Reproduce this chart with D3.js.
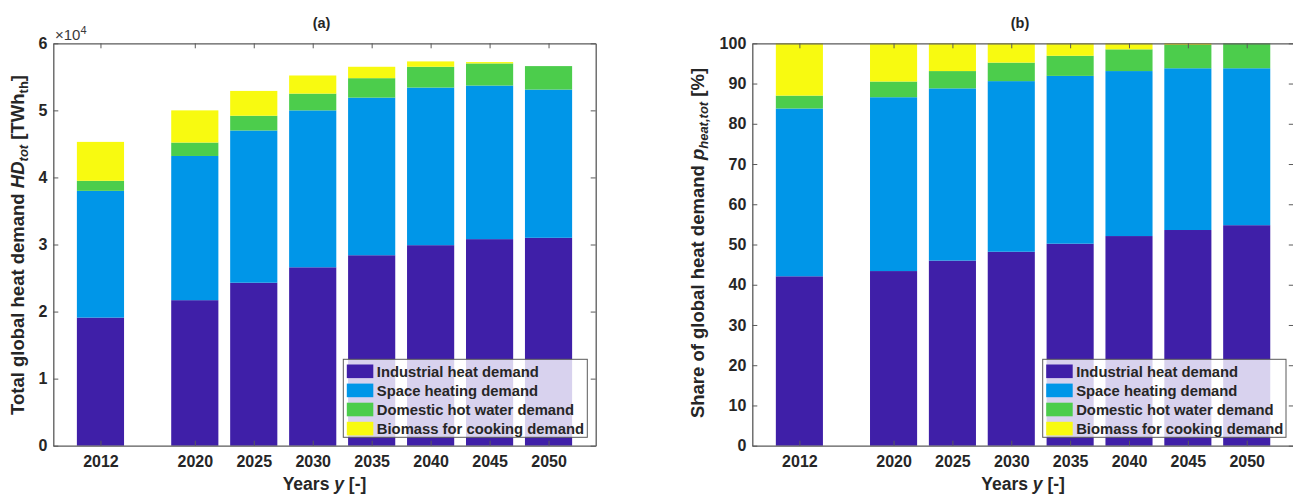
<!DOCTYPE html>
<html>
<head>
<meta charset="utf-8">
<script src="https://cdn.jsdelivr.net/npm/d3@7/dist/d3.min.js"></script>
<style>
  html, body { margin: 0; padding: 0; background: #fff; }
  svg { display: block; font-family: "Liberation Sans", Arial, sans-serif; }
</style>
</head>
<body>
<svg id="chart" width="1293" height="495"></svg>
<script>
// Years of the scenario
const years = [2012, 2020, 2025, 2030, 2035, 2040, 2045, 2050];

// Series names (stack order, bottom to top)
const seriesNames = [
  "Industrial heat demand",
  "Space heating demand",
  "Domestic hot water demand",
  "Biomass for cooking demand"
];

// (a) Total global heat demand, TWh_th
const industrialTWh = [19100, 21700, 24300, 26600, 28400, 29900, 30800, 31000];
const spaceTWh      = [18900, 21500, 22700, 23400, 23500, 23500, 22900, 22100];
const hotWaterTWh   = [ 1500,  2000,  2200,  2500,  2900,  3100,  3300,  3500];
const biomassTWh    = [ 5800,  4800,  3700,  2700,  1700,   800,   200,     0];

// (b) Share of global heat demand, %
const industrialPct = [42.1, 43.4, 46.0, 48.2, 50.2, 52.1, 53.6, 54.8];
const spacePct      = [41.7, 43.2, 42.8, 42.4, 41.7, 41.0, 40.2, 39.0];
const hotWaterPct   = [ 3.2,  3.9,  4.3,  4.6,  5.0,  5.4,  5.8,  6.2];
const biomassPct    = [13.0,  9.5,  6.9,  4.8,  3.1,  1.5,  0.4,  0.0];

// Axis ticks
const yTicksA = [0, 10000, 20000, 30000, 40000, 50000, 60000];
const yTickLabelsA = ["0", "1", "2", "3", "4", "5", "6"];
const yTicksB = [0, 10, 20, 30, 40, 50, 60, 70, 80, 90, 100];

const colors = ["#3f1fa8", "#0096e8", "#4ccd4c", "#f8fa10"];
const textColor = "#262626";
const axisColor = "#5a5a5a";

const svg = d3.select("#chart");

function buildRows(seriesArrays) {
  return years.map((yr, i) => {
    const row = { year: yr };
    seriesNames.forEach((name, k) => { row[name] = seriesArrays[k][i]; });
    return row;
  });
}

function drawPanel(opt) {
  const { left, right, top, bottom, rows, yMax, yTicks, yTickFormat, title, legendBox } = opt;

  const x = d3.scaleLinear().domain([2008, 2054]).range([left, right]);
  const y = d3.scaleLinear().domain([0, yMax]).range([bottom, top]);
  const halfBar = 2; // bar spans 4 years (0.8 of the 5-year step)

  const g = svg.append("g");

  const stacked = d3.stack().keys(seriesNames)(rows);

  // Stacked bars
  g.selectAll("g.layer")
    .data(stacked)
    .join("g")
    .attr("class", "layer")
    .attr("fill", (d, k) => colors[k])
    .selectAll("rect")
    .data(d => d)
    .join("rect")
    .attr("x", d => x(d.data.year - halfBar))
    .attr("width", d => x(d.data.year + halfBar) - x(d.data.year - halfBar))
    .attr("y", d => y(d[1]))
    .attr("height", d => Math.max(0, y(d[0]) - y(d[1])));

  // Axes (box with inward ticks on all sides)
  const tickLen = 5;
  const xAxisB = d3.axisBottom(x).tickValues(years).tickFormat(d3.format("d")).tickSizeInner(-tickLen).tickSizeOuter(0).tickPadding(10);
  const xAxisT = d3.axisTop(x).tickValues(years).tickFormat("").tickSizeInner(-tickLen).tickSizeOuter(0);
  const yAxisL = d3.axisLeft(y).tickValues(yTicks).tickFormat(yTickFormat).tickSizeInner(-tickLen).tickSizeOuter(0).tickPadding(6);
  const yAxisR = d3.axisRight(y).tickValues(yTicks).tickFormat("").tickSizeInner(-tickLen).tickSizeOuter(0);

  const axes = [
    g.append("g").attr("transform", `translate(0,${bottom})`).call(xAxisB),
    g.append("g").attr("transform", `translate(0,${top})`).call(xAxisT),
    g.append("g").attr("transform", `translate(${left},0)`).call(yAxisL),
    g.append("g").attr("transform", `translate(${right},0)`).call(yAxisR)
  ];
  axes.forEach(a => {
    a.select(".domain").attr("stroke", axisColor).attr("stroke-width", 1.3);
    a.selectAll(".tick line").attr("stroke", axisColor).attr("stroke-width", 1);
    a.selectAll(".tick text")
      .attr("fill", textColor)
      .attr("font-size", 16)
      .attr("font-weight", "bold")
      .attr("font-family", "Liberation Sans, Arial, sans-serif");
  });

  // Panel title
  g.append("text")
    .attr("x", (left + right) / 2 - 3)
    .attr("y", 28)
    .attr("text-anchor", "middle")
    .attr("font-size", 14.5)
    .attr("font-weight", "bold")
    .attr("fill", textColor)
    .text(title);

  // X axis label
  const xl = g.append("text")
    .attr("x", (left + right) / 2)
    .attr("y", 490)
    .attr("text-anchor", "middle")
    .attr("font-size", 17.5)
    .attr("font-weight", "bold")
    .attr("fill", textColor);
  xl.append("tspan").text("Years ");
  xl.append("tspan").attr("font-style", "italic").text("y");
  xl.append("tspan").text(" [-]");

  // Legend
  const lg = g.append("g");
  lg.append("rect")
    .attr("x", legendBox.x).attr("y", legendBox.y)
    .attr("width", legendBox.w).attr("height", legendBox.h)
    .attr("fill", "#fff").attr("fill-opacity", 0.8)
    .attr("stroke", axisColor).attr("stroke-width", 1);
  seriesNames.forEach((name, k) => {
    const cy = legendBox.y + 12 + k * 19.1;
    lg.append("rect")
      .attr("x", legendBox.x + 3.5).attr("y", cy - 6.8)
      .attr("width", 26.5).attr("height", 13.6)
      .attr("fill", colors[k]);
    lg.append("text")
      .attr("x", legendBox.x + 33.5).attr("y", cy + 5.3)
      .attr("font-size", 14.8)
      .attr("font-weight", "bold")
      .attr("fill", textColor)
      .text(name);
  });

  return { g, x, y };
}

// Panel (a): absolute heat demand
const pa = drawPanel({
  left: 53.3, right: 595.7, top: 43.3, bottom: 445.7,
  rows: buildRows([industrialTWh, spaceTWh, hotWaterTWh, biomassTWh]),
  yMax: 60000,
  yTicks: yTicksA,
  yTickFormat: (d, i) => yTickLabelsA[i],
  title: "(a)",
  legendBox: { x: 343.3, y: 359.3, w: 244, h: 78 }
});

// Exponent label of the y axis
const ex = pa.g.append("text")
  .attr("x", 55).attr("y", 40)
  .attr("font-size", 15)
  .attr("fill", "#3a3a3a");
ex.append("tspan").text("\u00d710");
ex.append("tspan").attr("font-size", 11).attr("dy", -6).text("4");

// Y axis label (a)
const yla = pa.g.append("text")
  .attr("transform", "translate(24,245) rotate(-90)")
  .attr("text-anchor", "middle")
  .attr("font-size", 18.5)
  .attr("font-weight", "bold")
  .attr("fill", textColor);
yla.append("tspan").text("Total global heat demand ");
yla.append("tspan").attr("font-style", "italic").text("HD");
yla.append("tspan").attr("font-style", "italic").attr("font-size", 13).attr("dy", 4).text("tot");
yla.append("tspan").attr("dy", -4).text(" [TWh");
yla.append("tspan").attr("font-size", 13).attr("dy", 4).text("th");
yla.append("tspan").attr("dy", -4).text("]");

// Panel (b): shares
const pb = drawPanel({
  left: 752.3, right: 1293.8, top: 43.3, bottom: 445.7,
  rows: buildRows([industrialPct, spacePct, hotWaterPct, biomassPct]),
  yMax: 100,
  yTicks: yTicksB,
  yTickFormat: d3.format("d"),
  title: "(b)",
  legendBox: { x: 1042.7, y: 359.3, w: 243.3, h: 78 }
});

// Y axis label (b)
const ylb = pb.g.append("text")
  .attr("transform", "translate(704,243) rotate(-90)")
  .attr("text-anchor", "middle")
  .attr("font-size", 18.5)
  .attr("font-weight", "bold")
  .attr("fill", textColor);
ylb.append("tspan").text("Share of global heat demand ");
ylb.append("tspan").attr("font-style", "italic").text("p");
ylb.append("tspan").attr("font-style", "italic").attr("font-size", 13).attr("dy", 4).text("heat,tot");
ylb.append("tspan").attr("dy", -4).text(" [%]");
</script>
</body>
</html>
